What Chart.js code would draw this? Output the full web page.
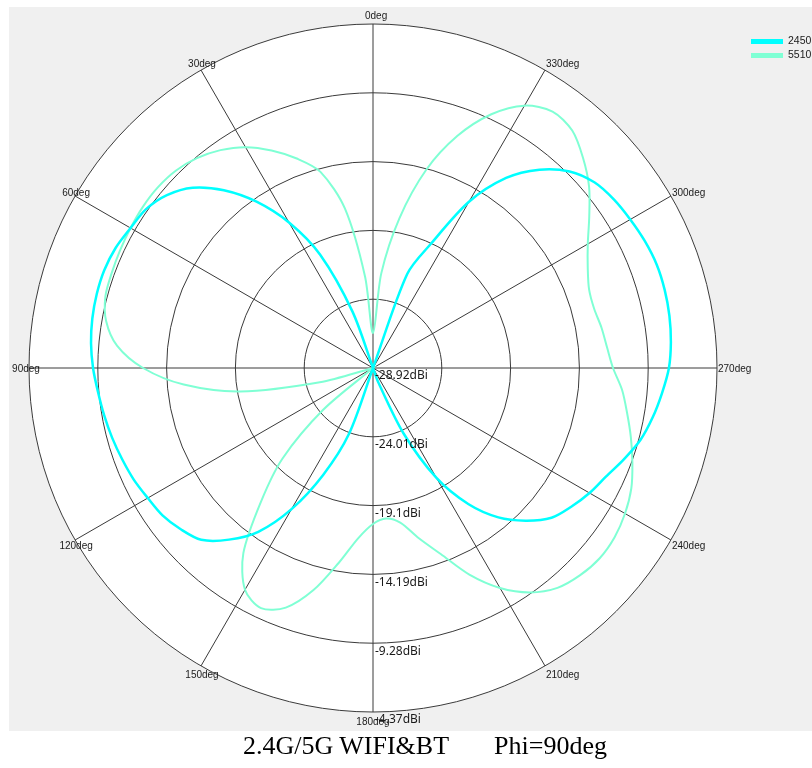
<!DOCTYPE html>
<html>
<head>
<meta charset="utf-8">
<title>Phi=90deg pattern</title>
<script src="https://cdn.jsdelivr.net/npm/chart.js@4.4.1/dist/chart.umd.min.js"></script>
<style>
    html, body { margin: 0; padding: 0; background: #fff; overflow: hidden; }
    #frame { position: absolute; left: 9px; top: 7px; width: 803px; height: 724px; background: #f0f0f0; }
    #wrap { position: absolute; left: 0; top: 0; width: 812px; height: 768px; }
    #caption {
        position: absolute; left: 243px; top: 733px;
        font: 26px/26px "Liberation Serif", "Times New Roman", serif;
        white-space: pre; color: #000;
    }
</style>
</head>
<body>
<div id="frame"></div>
<div id="wrap"><canvas id="pattern"></canvas></div>
<div id="caption">2.4G/5G WIFI&amp;BT       Phi=90deg</div>
<script>
/* angles (deg, counter-clockwise from top) */
const angles = [0, 5, 10, 15, 20, 25, 30, 35, 40, 45, 50, 55, 60, 65, 70, 75, 80, 85,
    90, 95, 100, 105, 110, 115, 120, 125, 130, 135, 140, 145, 150, 155, 160, 165, 170, 175,
    180, 185, 190, 195, 200, 205, 210, 215, 220, 225, 230, 235, 240, 245, 250, 255, 260, 265,
    270, 275, 280, 285, 290, 295, 300, 305, 310, 315, 320, 325, 330, 335, 340, 345, 350, 355];

// gain in dBi, one value per angle above
const gain2450 = [-28.92, -28.92, -28.92, -28.92, -24.64, -20.00, -16.93, -14.43, -12.36, -10.72,
    -9.72, -9.15, -8.94, -8.65, -8.51, -8.51, -8.58, -8.72,
    -8.94, -9.22, -9.44, -9.65, -9.87, -10.08, -10.36, -10.58, -11.01, -11.58,
    -12.93, -14.65, -17.29, -20.50, -23.92, -28.92, -28.92, -28.92,
    -28.92, -28.92, -28.92, -28.92, -27.85, -23.78, -19.86, -17.07, -15.00, -13.51,
    -12.29, -11.65, -11.08, -10.58, -9.87, -9.15, -8.65, -8.22,
    -7.80, -7.58, -7.44, -7.37, -7.37, -7.51, -7.72, -7.94, -8.30, -9.08,
    -10.44, -12.36, -15.22, -19.14, -21.78, -28.92, -28.92, -28.92];

const gain5510 = [-26.42, -22.35, -17.36, -14.43, -13.01, -11.79, -10.72, -9.94, -9.37, -9.01,
    -8.87, -8.87, -8.94, -9.01, -9.08, -9.15, -9.58, -10.58,
    -12.51, -15.36, -19.29, -24.99, -28.92, -28.92, -28.92, -28.92, -24.28, -19.79,
    -16.50, -12.79, -10.65, -10.01, -10.72, -12.51, -14.79, -16.72,
    -17.79, -18.14, -17.72, -16.36, -14.79, -12.65, -10.79, -9.37, -8.44, -8.01,
    -7.80, -7.87, -8.15, -8.58, -9.22, -9.87, -10.51, -11.08,
    -11.79, -12.15, -12.36, -12.58, -12.51, -12.01, -11.22, -10.08, -8.79, -7.72,
    -6.80, -6.58, -7.30, -8.94, -11.29, -14.29, -18.07, -22.14];

const seriesNames = ['2450', '5510'];
const seriesColors = ['#00ffff', '#7fffd4'];

// radial ticks
const gainMin = -28.92;
const gainMax = -4.37;
const gainStep = 4.91;

// radar draws clockwise, the pattern is counter-clockwise -> walk the arrays backwards
const n = angles.length;
const order = angles.map((a, k) => (n - k) % n);
const chartAngles = order.map(i => angles[i]);

const textPlugin = {
    id: 'polarText',
    afterDraw(chart) {
        const ctx = chart.ctx;
        const scale = chart.scales.r;
        ctx.save();

        // dBi labels, below each ring along the 180deg spoke
        ctx.fillStyle = '#1a1a1a';
        ctx.font = '12px "Noto Sans", "Open Sans", sans-serif';
        ctx.textAlign = 'left';
        ctx.textBaseline = 'top';
        scale.ticks.forEach(t => {
            const d = scale.getDistanceFromCenterForValue(t.value);
            ctx.fillText(t.value + 'dBi', scale.xCenter + 2, scale.yCenter + d + 2);
        });

        // angle labels every 30deg
        ctx.font = '10px "Liberation Sans", Arial, sans-serif';
        ctx.textBaseline = 'middle';
        chartAngles.forEach((a, i) => {
            if (a % 30 !== 0) return;
            const p = scale.getPointPosition(i, scale.drawingArea);
            const rad = a * Math.PI / 180;
            const y = p.y + 1.5 - 9 * Math.cos(rad);
            let x = p.x;
            if (a === 0) { ctx.textAlign = 'left'; x = p.x - 8; }
            else if (a === 180) { ctx.textAlign = 'center'; }
            else if (a === 90) { ctx.textAlign = 'center'; x = p.x - 3; }
            else if (a < 180) { ctx.textAlign = 'center'; x = p.x + 1; }
            else { ctx.textAlign = 'left'; x = p.x + 1; }
            ctx.fillText(a + 'deg', x, y);
        });

        // legend, top right
        ctx.font = '10.5px "Liberation Sans", Arial, sans-serif';
        ctx.textAlign = 'left';
        chart.data.datasets.forEach((ds, i) => {
            const y = 41.5 + i * 14;
            ctx.strokeStyle = ds.borderColor;
            ctx.lineWidth = 5;
            ctx.beginPath();
            ctx.moveTo(751, y);
            ctx.lineTo(783, y);
            ctx.stroke();
            ctx.fillStyle = '#1a1a1a';
            ctx.fillText(ds.label, 788, y);
        });
        ctx.restore();
    }
};

new Chart(document.getElementById('pattern'), {
    type: 'radar',
    data: {
        labels: chartAngles,
        datasets: [
            {
                label: seriesNames[0],
                data: order.map(i => gain2450[i]),
                borderColor: seriesColors[0],
                borderWidth: 2.5,
                fill: false,
                pointRadius: 0,
                tension: 0.3
            },
            {
                label: seriesNames[1],
                data: order.map(i => gain5510[i]),
                borderColor: seriesColors[1],
                borderWidth: 2,
                fill: false,
                pointRadius: 0,
                tension: 0.3
            }
        ]
    },
    options: {
        responsive: true,
        maintainAspectRatio: false,
        animation: false,
        layout: { padding: { left: 29, top: 24, right: 95, bottom: 56 } },
        plugins: {
            legend: { display: false },
            tooltip: { enabled: false }
        },
        scales: {
            r: {
                min: gainMin,
                max: gainMax,
                startAngle: 0,
                backgroundColor: '#ffffff',
                ticks: { display: false, stepSize: gainStep },
                grid: { circular: true, color: '#3a3a3a', lineWidth: 1 },
                angleLines: {
                    color: c => (chartAngles[c.index] % 30 === 0 ? '#3a3a3a' : null),
                    lineWidth: 1
                },
                pointLabels: { display: false }
            }
        }
    },
    plugins: [textPlugin]
});
</script>
</body>
</html>
